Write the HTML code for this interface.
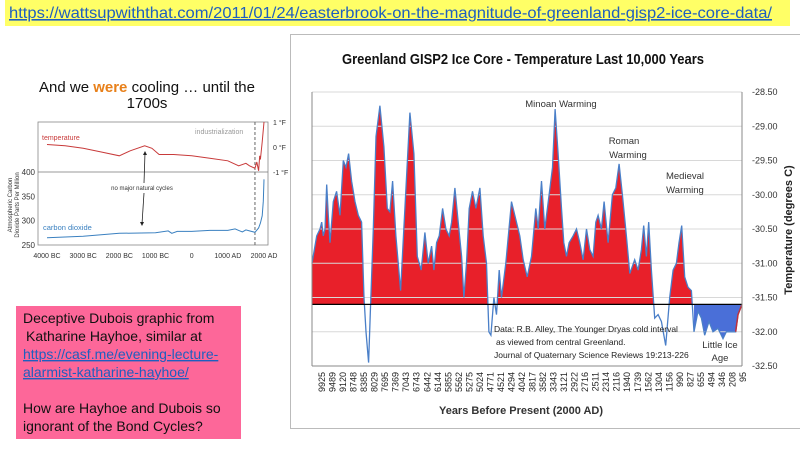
<!DOCTYPE html>
<html><head><meta charset="utf-8"><style>
html,body{margin:0;padding:0;background:#fff;width:800px;height:450px;overflow:hidden}
svg{display:block;font-family:"Liberation Sans",sans-serif}
</style></head><body>
<svg id="s" width="800" height="450" viewBox="0 0 800 450">
<rect x="5" y="0" width="785" height="26" fill="#ffff66"/>
<text x="9" y="18" font-size="16" fill="#1f5fbf" text-decoration="underline" textLength="763" lengthAdjust="spacingAndGlyphs">https://wattsupwiththat.com/2011/01/24/easterbrook-on-the-magnitude-of-greenland-gisp2-ice-core-data/</text>

<text x="147" y="92" font-size="15" text-anchor="middle" fill="#111">And we <tspan fill="#e8801a" font-weight="bold">were</tspan> cooling … until the</text>
<text x="147" y="108" font-size="15" text-anchor="middle" fill="#111">1700s</text>
<g id="left"></g>

<rect x="16" y="306" width="225" height="133" fill="#fd6799"/>
<g font-size="14" fill="#111">
<text x="23" y="323">Deceptive Dubois graphic from</text>
<text x="26" y="341">Katharine Hayhoe, similar at</text>
<text x="23" y="359" fill="#1f5fbf" text-decoration="underline">https://casf.me/evening-lecture-</text>
<text x="23" y="377" fill="#1f5fbf" text-decoration="underline">alarmist-katharine-hayhoe/</text>
<text x="23" y="413">How are Hayhoe and Dubois so</text>
<text x="23" y="431">ignorant of the Bond Cycles?</text>
</g>

<rect x="290.5" y="34.5" width="515" height="394" fill="#fff" stroke="#bbb"/>
<text x="523" y="64" font-size="15" font-weight="bold" text-anchor="middle" fill="#111" textLength="362" lengthAdjust="spacingAndGlyphs">Greenland GISP2 Ice Core - Temperature  Last 10,000 Years</text>
<g id="right"></g>
</svg>
<script>
// GISP2 data: sample position along record (0..1291) and temperature (°C)
const samplePos=[0,14,24,29,34,39,44,49,54,64,74,84,94,102,110,119,129,139,149,156,162,170,176,184,192,204,216,226,234,242,252,266,279,294,306,316,328,339,349,359,366,374,382,392,402,412,419,429,439,449,456,464,472,482,492,504,514,524,531,537,546,554,562,569,582,599,609,624,634,646,659,672,679,689,699,712,722,730,739,749,756,764,772,784,794,804,814,824,834,844,852,859,869,877,889,902,912,922,932,944,954,969,979,989,996,1004,1011,1019,1029,1039,1049,1062,1074,1084,1094,1102,1110,1119,1129,1139,1147,1159,1169,1179,1192,1204,1219,1234,1244,1259,1272,1279,1291];
const temps=[-31.0,-30.6,-30.5,-30.4,-30.6,-30.5,-29.85,-30.3,-30.7,-30.1,-29.95,-30.3,-29.5,-29.6,-29.4,-29.8,-30.1,-30.3,-30.4,-31.5,-32.0,-32.45,-31.6,-30.5,-29.15,-28.7,-29.3,-30.2,-30.25,-29.8,-30.6,-31.4,-30.2,-28.8,-29.4,-30.9,-31.1,-30.55,-31.0,-30.75,-31.1,-30.7,-30.6,-30.2,-30.5,-30.6,-30.4,-29.9,-30.4,-30.9,-31.5,-31.0,-30.2,-29.95,-30.2,-29.9,-30.6,-31.0,-32.0,-32.05,-31.5,-31.75,-31.1,-31.5,-31.0,-30.1,-30.3,-30.6,-30.95,-31.2,-30.9,-30.2,-30.5,-29.8,-30.5,-30.0,-29.6,-28.75,-29.4,-30.2,-30.7,-30.9,-30.7,-30.6,-30.5,-30.7,-30.95,-30.5,-30.8,-30.9,-30.4,-30.3,-30.5,-30.1,-30.7,-30.0,-29.9,-29.55,-30.0,-30.6,-31.15,-30.95,-31.1,-30.8,-30.45,-30.9,-30.4,-31.1,-31.8,-31.75,-31.85,-32.2,-31.5,-31.1,-31.0,-30.7,-30.45,-31.2,-31.35,-31.4,-32.0,-31.7,-31.8,-32.05,-31.85,-32.0,-31.95,-32.1,-32.0,-32.0,-32.0,-31.75,-31.6];
const yearLabels=["9925","9489","9120","8748","8385","8029","7695","7369","7043","6743","6442","6144","5855","5562","5275","5024","4771","4521","4294","4042","3817","3582","3343","3121","2922","2716","2511","2314","2116","1940","1739","1562","1304","1156","990","827","655","494","346","208","95"];
const yTicks=[-28.5,-29.0,-29.5,-30.0,-30.5,-31.0,-31.5,-32.0,-32.5];
const baseline=-31.6;
const littleIceStart=1147, modernStart=1272;

// Left chart data
const leftYears=[-4000,-3500,-3000,-2500,-2000,-1700,-1300,-1100,-900,-500,0,500,1000,1300,1500,1600,1750,1800,1850,1880,1900,1950,2000];
const leftTemp=[0.1,0.05,-0.05,-0.2,-0.35,-0.15,0.05,-0.05,-0.3,-0.3,-0.35,-0.45,-0.55,-0.75,-0.65,-0.75,-0.85,-0.6,-0.95,-0.35,-0.5,0.2,1.0];
const co2Years=[-4000,-3000,-2000,-1000,-650,-550,-400,0,500,1000,1200,1300,1400,1500,1600,1750,1850,1900,1950,1980,2000];
const co2=[265,268,274,275,279,274,278,278,280,280,283,280,277,281,279,276,285,295,310,340,385];

const NS="http://www.w3.org/2000/svg";
function mk(parent,tag,attrs,txt){const e=document.createElementNS(NS,tag);for(const k in attrs)e.setAttribute(k,attrs[k]);if(txt!=null)e.textContent=txt;parent.appendChild(e);return e;}

// ---- right chart ----
const R=document.getElementById('right');
const px0=312,px1=742,py0=92,py1=366;
const xS=p=>px0+p/1291*(px1-px0);
const yS=t=>py0+(t-(-28.5))/(-4)*(py1-py0);
const defs=mk(R,'defs',{});
const c1=mk(defs,'clipPath',{id:'above'});mk(c1,'rect',{x:px0,y:py0-20,width:px1-px0,height:yS(baseline)-py0+20});
const c2=mk(defs,'clipPath',{id:'lia'});mk(c2,'rect',{x:xS(littleIceStart),y:yS(baseline),width:px1-xS(littleIceStart),height:40});
let line='';samplePos.forEach((p,i)=>{line+=(i?'L':'M')+xS(p).toFixed(1)+','+yS(temps[i]).toFixed(1);});
const area=line+'L'+xS(1291)+','+yS(baseline)+'L'+xS(0)+','+yS(baseline)+'Z';
let e=mk(R,'path',{d:area,fill:'#e8202a','clip-path':'url(#above)'});

e=mk(R,'path',{d:area,fill:'#4a6fd8','clip-path':'url(#lia)'});

yTicks.forEach(t=>{
  const g=mk(R,'line',{x1:px0,x2:px1,y1:yS(t),y2:yS(t),stroke:'#d8d8d8','stroke-width':1});
  
  const tx=mk(R,'text',{x:px1+10,y:yS(t)+3,'font-size':9,fill:'#333'},t.toFixed(2));
  
});
e=mk(R,'path',{d:line,fill:'none',stroke:'#4a7fc8','stroke-width':1.3});

let mline='';samplePos.forEach((p,i)=>{if(p>=modernStart)mline+=(mline?'L':'M')+xS(p)+','+yS(temps[i]);});
e=mk(R,'path',{d:mline,fill:'none',stroke:'#c0303a','stroke-width':1.5});

e=mk(R,'line',{x1:px0,x2:px1,y1:yS(baseline),y2:yS(baseline),stroke:'#000','stroke-width':1.2});

mk(R,'line',{x1:px0,x2:px0,y1:py0,y2:py1,stroke:'#888'});
mk(R,'line',{x1:px1,x2:px1,y1:py0,y2:py1,stroke:'#888'});
mk(R,'line',{x1:px0,x2:px1,y1:py1,y2:py1,stroke:'#888'});
const step=(743-322)/(yearLabels.length-1);
yearLabels.forEach((l,i)=>{
  const x=322+i*step;
  const t=mk(R,'text',{x:x+3,y:372,'font-size':9,fill:'#222','text-anchor':'end',transform:`rotate(-90 ${x+3} 372)`},l);
  
});
function lab(x,y,s,name,size){const t=mk(R,'text',{x,y,'font-size':size||9.5,fill:'#333','text-anchor':'middle'},s);}
lab(561,107,'Minoan Warming','minoan-label');
lab(624,144,'Roman','roman-label');lab(628,158,'Warming','roman-label-2');
lab(685,179,'Medieval','medieval-label');lab(685,193,'Warming','medieval-label-2');
lab(720,348,'Little Ice','lia-label');lab(720,361,'Age','lia-label-2');
const src=['Data: R.B. Alley,  The Younger Dryas cold interval','as viewed from central Greenland.','Journal of Quaternary  Science Reviews 19:213-226'];
src.forEach((s,i)=>{const t=mk(R,'text',{x:[494,496,494][i],y:332+i*13,'font-size':8.5,fill:'#222'},s);});
lab(521,414,'Years Before Present (2000 AD)','x-axis-title',11);
R.lastChild.setAttribute('font-weight','bold');
e=mk(R,'text',{x:792,y:230,'font-size':11,'font-weight':'bold',fill:'#222','text-anchor':'middle',transform:'rotate(-90 792 230)'},'Temperature (degrees C)');


// ---- left chart ----
const L=document.getElementById('left');
const lx0=38,lx1=268;
const lxS=y=>47+(y+4000)/6000*(lx1-8-47+4);
const ltS=t=>147-t*25;
const lcS=v=>245-(v-250)/150*73;
mk(L,'rect',{x:lx0,y:122,width:lx1-lx0,height:123,fill:'none',stroke:'#888','stroke-width':0.8});
mk(L,'line',{x1:lx0,x2:lx1,y1:172,y2:172,stroke:'#777','stroke-width':0.8});
[400,350,300,250].forEach(v=>{const t=mk(L,'text',{x:35,y:lcS(v)+3,'font-size':8,fill:'#333','text-anchor':'end'},v);});
[['1 °F',1],['0 °F',0],['-1 °F',-1]].forEach(a=>{const t=mk(L,'text',{x:273,y:ltS(a[1])+3,'font-size':7,fill:'#333'},a[0]);});
['4000 BC','3000 BC','2000 BC','1000 BC','0','1000 AD','2000 AD'].forEach((s,i)=>{const t=mk(L,'text',{x:lxS(-4000+i*1000),y:258,'font-size':7,fill:'#333','text-anchor':'middle'},s);});
mk(L,'line',{x1:lxS(1750),x2:lxS(1750),y1:122,y2:245,stroke:'#666','stroke-dasharray':'3,2'});
let tp='';leftYears.forEach((y,i)=>tp+=(i?'L':'M')+lxS(y).toFixed(1)+','+ltS(leftTemp[i]).toFixed(1));
e=mk(L,'path',{d:tp,fill:'none',stroke:'#c83a3a','stroke-width':1});
let cp='';co2Years.forEach((y,i)=>cp+=(i?'L':'M')+lxS(y).toFixed(1)+','+lcS(co2[i]).toFixed(1));
e=mk(L,'path',{d:cp,fill:'none',stroke:'#3a80c0','stroke-width':1});
function ll(x,y,s,c,sz,name,anch){const t=mk(L,'text',{x,y,'font-size':sz,fill:c,'text-anchor':anch||'start'},s);}
ll(42,140,'temperature','#c83a3a',7,'temperature-label');
ll(43,230,'carbon dioxide','#3a80c0',7.5,'co2-label');
ll(195,134,'industrialization','#999',7,'industrialization-label');
ll(142,190,'no major natural cycles','#333',6,'no-cycles-label','middle');
mk(L,'line',{x1:145,x2:144,y1:153,y2:183,stroke:'#222','stroke-width':0.8});
mk(L,'line',{x1:144,x2:142,y1:193,y2:224,stroke:'#222','stroke-width':0.8});
mk(L,'path',{d:'M145,151 l-2,4 h4z M142,226 l-2,-4 h4z',fill:'#222'});
e=mk(L,'text',{x:12,y:205,'font-size':6,fill:'#333','text-anchor':'middle',transform:'rotate(-90 12 205)'},'Atmospheric Carbon');
e=mk(L,'text',{x:19,y:205,'font-size':6,fill:'#333','text-anchor':'middle',transform:'rotate(-90 19 205)'},'Dioxide Parts Per Million');
</script>
</body></html>
